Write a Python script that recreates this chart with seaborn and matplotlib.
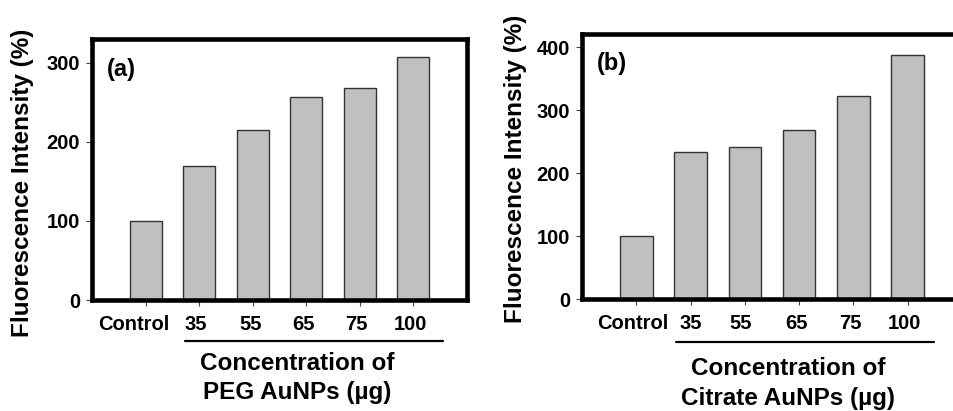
import matplotlib
matplotlib.use('Agg')
import matplotlib.pyplot as plt
import matplotlib.transforms as mtransforms
from matplotlib.lines import Line2D
import seaborn as sns

categories = ['Control', '35', '55', '65', '75', '100']
peg_values = [100, 170, 215, 257, 268, 307]
citrate_values = [100, 234, 242, 268, 323, 388]

sns.set_style('ticks')
plt.rcParams['font.family'] = ['Liberation Sans', 'DejaVu Sans']
plt.rcParams['font.weight'] = 'bold'
plt.rcParams['text.color'] = 'black'
plt.rcParams['axes.labelcolor'] = 'black'
plt.rcParams['xtick.labelcolor'] = 'black'
plt.rcParams['ytick.labelcolor'] = 'black'

W, H = 954, 411
fig = plt.figure(figsize=(W / 100, H / 100), dpi=100)


def px(x, y):
    return x / W, 1 - y / H


def panel(rect, values, ylim, yticks, tag, tag_xy, ylabel_xy, line_x, line_y, texts, label_shift):
    ax = fig.add_axes(rect)
    sns.barplot(x=categories, y=values, order=categories, color='#c0c0c0', saturation=1,
                edgecolor='#333333', linewidth=1, width=0.6, ax=ax)
    ax.set_xlim(-1, 6.0)
    ax.set_ylim(*ylim)
    ax.set_yticks(yticks)
    for side in ['top', 'right', 'left', 'bottom']:
        ax.spines[side].set_visible(True)
        ax.spines[side].set_linewidth(3.3)
        ax.spines[side].set_color('black')
    ax.tick_params(axis='both', direction='out', length=4.5, width=0.8, color='#444444',
                   labelsize=14.5, labelcolor='black', pad=4)
    ax.tick_params(axis='x', pad=6)
    for lab in ax.get_yticklabels() + ax.get_xticklabels():
        lab.set_fontweight('bold')
    for lab, dx in zip(ax.get_xticklabels(), label_shift):
        lab.set_transform(lab.get_transform() +
                          mtransforms.ScaledTranslation(dx / 100, 0, fig.dpi_scale_trans))
    ax.set_xlabel('')
    ax.set_ylabel('Fluorescence Intensity (%)', fontsize=17.5, fontweight='bold',
                  va='center', color='black')
    ax.yaxis.set_label_coords(*ylabel_xy)
    ax.text(*tag_xy, tag, transform=ax.transAxes, fontsize=17, fontweight='bold',
            ha='left', va='center', color='black')
    x0, y0 = px(line_x[0], line_y)
    x1, _ = px(line_x[1], line_y)
    fig.add_artist(Line2D([x0, x1], [y0, y0], color='black', linewidth=1.6))
    for (tx, ty, s) in texts:
        fx, fy = px(tx, ty)
        fig.text(fx, fy, s, fontsize=17.5, fontweight='bold', ha='center', va='center',
                 color='black')
    return ax


ax1 = panel([92 / W, 1 - 300 / H, 375 / W, 261 / H], peg_values, (0, 330),
            [0, 100, 200, 300], '(a)', (0.04, 0.885), (-0.184, 0.45),
            (185, 443), 341,
            [(297, 363, 'Concentration of'), (297, 392, 'PEG AuNPs (µg)')],
            [-12, -3, -2, -3, -3, -3])

ax2 = panel([582 / W, 1 - 299 / H, 380 / W, 265 / H], citrate_values, (0, 421),
            [0, 100, 200, 300, 400], '(b)', (0.04, 0.89), (-0.176, 0.49),
            (676, 934), 342,
            [(788, 368, 'Concentration of'), (788, 398, 'Citrate AuNPs (µg)')],
            [-4, 0, -4, -3, -3, -3])

fig.savefig('out.png', dpi=100)
